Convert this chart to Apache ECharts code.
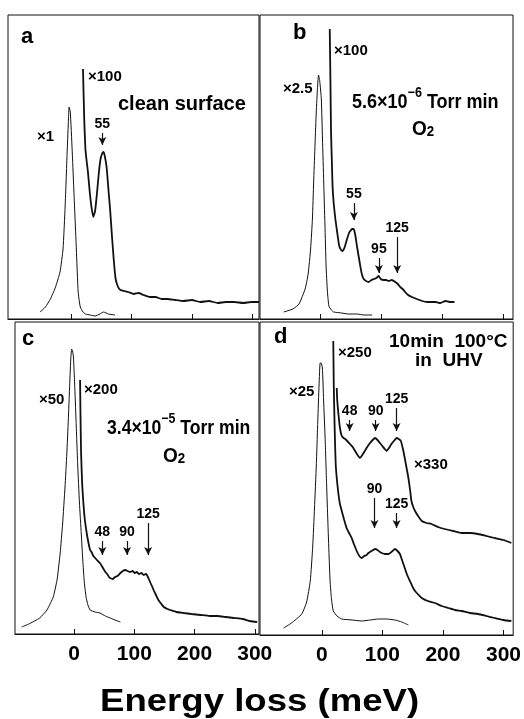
<!DOCTYPE html>
<html><head><meta charset="utf-8">
<script src="https://cdn.jsdelivr.net/npm/echarts@6/dist/echarts.min.js"></script>
<style>html,body{margin:0;padding:0;background:#fff}#c{width:524px;height:719px}</style>
</head><body><div id="c"></div>
<script>
// ---- data (x: energy loss in meV, y: intensity in arbitrary units) ----
const xTicks = [0, 100, 200, 300];

const aElastic = [[-51,7],[-42,12],[-34,20],[-26,31],[-18,47],[-13,70],[-9.5,113],[-6,170],[-4,200],[-3,212],[-1,207],[2,170],[5.5,120],[9,70],[12,27],[15.5,12],[20,7],[24,5],[32,4],[40,3],[48,5],[54,7],[62,5],[73,4]];
const aX100 = [[20,250],[22,200],[24,170],[26,158],[28,148],[31,128],[34,112],[37,102],[40,108],[43,125],[46,145],[49,160],[52,166],[54,167],[56,163],[59,152],[62,130],[65,108],[68,82],[71,58],[74,40],[78,32],[82,29],[88,28],[95,27],[104,25],[112,26],[120,24],[131,22],[140,22],[150,20],[160,20],[172,19],[186,18],[200,19],[214,17],[228,18],[243,16],[256,17],[270,17],[285,16],[298,17],[311,17]];

const bElastic = [[-60,7],[-45,10],[-35,15],[-25,30],[-20,45],[-16,70],[-13,100],[-11,137],[-9,170],[-7,203],[-5,228],[-3,244],[-1,238],[1.6,220],[3.5,180],[5.5,137],[7.5,95],[9.4,53],[11.5,28],[14,13],[18,9],[22,7],[35,6],[46,5],[60,5],[72,4],[85,4]];
const bX100 = [[15.4,290],[16.5,240],[17.5,187],[19,155],[20,133],[22,115],[24.6,100],[28,85],[31,73],[34,69],[36.7,68],[40,72],[43.8,80],[47,86],[49,88],[52,90],[54.6,90],[57,85],[60,73],[63,62],[65.5,53],[68,45],[71,40],[75,38],[79,37],[84,39],[88,40],[92,41],[95.6,43],[99,40],[104,39],[108,39],[112,38],[117,39],[123,37],[127,35],[131,32],[135,30],[139,27],[144,24],[150,22],[158,20],[167,18],[175,17],[182,17],[189,17],[197,16],[205,18],[212,17],[220,17]];

const cX50 = [[-87,7],[-75,10],[-57,16],[-45,24],[-34.5,37],[-28,55],[-23,81],[-19,110],[-15,147],[-12,180],[-9.5,214],[-7.5,245],[-5.5,274],[-4,285],[-2.5,283],[-1,277],[1,250],[3.3,214],[6,170],[9,131],[12,100],[14.5,74],[17,52],[20,37],[23,29],[26.7,24],[35,22],[43,21],[52,18],[60,16],[68,14],[77,12]];
const cX200 = [[10,254],[10.8,215],[11.7,181],[13.5,150],[15.5,131],[18,114],[21,101],[24,91],[26.7,84],[29,82],[32,78],[35,76],[38,74],[41,72],[43,71],[46,68],[49,65],[52,62],[55,60],[58,57],[60,56],[64,55],[68,57],[72,58],[77,61],[81,63],[85,64],[89,63],[93,62],[97,63],[101,61],[104,62],[108,60],[112,61],[115.5,59],[119,60],[121,59],[124,55],[127,51],[130,47],[132,44],[136,39],[140,34],[145,30],[149,27],[155,25],[160,24],[170,22],[182,21],[195,20],[210,19],[225,18],[238,18],[252,17],[265.5,16],[280,15],[292,13],[304,12]];

const dX25 = [[-63,7],[-50,12],[-33,21],[-25,33],[-19,54],[-15,88],[-12,127],[-9,170],[-6.6,214],[-4.5,250],[-2.7,272],[-1,272],[1,267],[3,235],[5.5,197],[8,150],[10,114],[12,80],[13.7,54],[16,36],[19,24],[25,19],[33,16],[50,15],[66,14],[80,15],[93,16],[107,16],[121,15],[132,13],[143,10]];
const dX250 = [[19,294],[19.8,250],[21,214],[22,190],[23,171],[25,155],[27.5,141],[30,131],[33,124],[37,115],[41,107],[45,102],[49.4,97],[53,91],[57.7,84],[62,79],[66,77],[70,79],[74,80],[77,82],[82,84],[88,86],[92,85],[96,83],[99,82],[104,81],[110,81],[115,83],[121,86],[125,84],[129,81],[133,74],[137,67],[141,60],[145.5,54],[150,48],[154,44],[160,40],[165,37],[175,34],[187,32],[198,29],[209,27],[220,25],[231,24],[245,22],[258,21],[272,19],[285.5,17],[300,15],[313,14]];
const dX330 = [[24.7,247],[25.5,235],[27.5,221],[30,207],[33,199],[36,197],[38.5,196],[42,194],[46.6,191],[51,188],[55,184],[59,180],[63,177],[67,180],[71,184],[75,188],[79.6,192],[84,195],[88,197],[92,195],[96,192],[100,189],[104,186],[107,184],[111,187],[115,191],[119,194],[123.5,197],[127,196],[130.6,194],[134,186],[137,177],[140,167],[143,157],[146,144],[148,134],[151,128],[154,124],[159,119],[165,114],[173,112],[181,111],[192,108],[203,106],[217,104],[231,102],[245,102],[258,101],[272,99],[285.5,97],[300,95],[313,92]];

// peak markers: [energy, arrow top, arrow tip, label]
const aPeaks = [[52,186,174,'55']];
const bPeaks = [[55,116,99,'55'],[96,61,46,'95'],[126,82,46,'125']];
const cPeaks = [[47,93,79,'48'],[88,93,79,'90'],[123,111,79,'125']];
const dPeaksUpper = [[46,215,204,'48'],[89,215,204,'90'],[123.5,227,204,'125']];
const dPeaksLower = [[87,137,107,'90'],[123.5,122,107,'125']];

// ---- chart ----
const FONT = 'Liberation Sans';
const ink = '#111';
const grids = [
  {left:8, top:15, width:251, height:304},
  {left:260, top:15, width:253, height:304},
  {left:15, top:322, width:244, height:312},
  {left:260, top:322, width:254, height:313}
];
const xr = [[-104,311],[-99,316],[-98,307],[-102,316]];
const yMax = [304,304,312,313];

function xAxis(i, labels){
  return {gridIndex:i, type:'value', min:xr[i][0], max:xr[i][1],
    axisLine:{show:true, onZero:false, lineStyle:{color:ink, width:1}},
    axisTick:{show:true, inside:true, length:5, customValues:xTicks, lineStyle:{color:ink}},
    axisLabel:{show:labels, customValues:xTicks, color:'#000', fontFamily:FONT, fontWeight:'bold', fontSize:21, margin:10},
    splitLine:{show:false}};
}
function yAxis(i){ return {gridIndex:i, type:'value', min:0, max:yMax[i], show:false}; }
function arrows(list){
  return {silent:true, symbol:['none','arrow'], symbolSize:[6,8], animation:false,
    lineStyle:{color:ink, width:1.2, type:'solid'},
    label:{show:true, position:'start', formatter:'{b}', color:'#000', fontFamily:FONT, fontWeight:'bold', fontSize:14, distance:2},
    data: list.map(p=>[{coord:[p[0],p[1]], name:p[3]},{coord:[p[0],p[2]]}])};
}
function line(i, data, w, ml){
  const s = {type:'line', xAxisIndex:i, yAxisIndex:i, data:data, showSymbol:false, smooth:0.15,
    lineStyle:{color:ink, width:w}, animation:false};
  if (ml) s.markLine = ml;
  return s;
}
function txt(x, y, s, size, sx){
  return {type:'text', x:x, y:y, scaleX:sx||1, style:{text:s, fill:'#000', font:'bold '+size+'px "'+FONT+'"', textAlign:'left', textVerticalAlign:'middle'}};
}
function rich(x, y, s, r, sx){
  return {type:'text', x:x, y:y, scaleX:sx||1, style:{text:s, fill:'#000', textAlign:'left', textVerticalAlign:'middle', rich:r}};
}
const richStyle = {
  m:{fontFamily:FONT, fontWeight:'bold', fontSize:20, color:'#000', lineHeight:26, verticalAlign:'bottom'},
  sup:{fontFamily:FONT, fontWeight:'bold', fontSize:14, color:'#000', lineHeight:26, verticalAlign:'top', padding:[0,0,12,0]},
  sub:{fontFamily:FONT, fontWeight:'bold', fontSize:14, color:'#000', lineHeight:26, verticalAlign:'bottom', padding:[8,0,0,0]}
};

const chart = echarts.init(document.getElementById('c'), null, {renderer:'canvas'});
chart.setOption({
  backgroundColor:'#fff',
  animation:false,
  grid: grids.map(g=>Object.assign({show:true, borderColor:ink, borderWidth:1, backgroundColor:'transparent', containLabel:false}, g)),
  xAxis:[xAxis(0,false), xAxis(1,false), xAxis(2,true), xAxis(3,true)],
  yAxis:[yAxis(0), yAxis(1), yAxis(2), yAxis(3)],
  series:[
    line(0, aElastic, 1),
    line(0, aX100, 1.8, arrows(aPeaks)),
    line(1, bElastic, 1),
    line(1, bX100, 1.8, arrows(bPeaks)),
    line(2, cX50, 1),
    line(2, cX200, 1.8, arrows(cPeaks)),
    line(3, dX25, 1),
    line(3, dX250, 1.8, arrows(dPeaksLower)),
    line(3, dX330, 1.8, arrows(dPeaksUpper))
  ],
  graphic:[
    txt(21, 37, 'a', 22), txt(293, 33, 'b', 22), txt(22, 339, 'c', 22), txt(274, 337, 'd', 22),
    txt(88, 77, '×100', 15), txt(118, 104, 'clean surface', 20), txt(37, 137, '×1', 15),
    txt(334, 51, '×100', 15), txt(283, 89, '×2.5', 15),
    rich(352, 99, '{m|5.6×10}{sup|−6}{m| Torr min}', richStyle, 0.9),
    rich(412, 126, '{m|O}{sub|2}', richStyle, 0.95),
    txt(39, 400, '×50', 15), txt(84, 390, '×200', 15),
    rich(107, 425, '{m|3.4×10}{sup|−5}{m| Torr min}', richStyle, 0.88),
    rich(163, 453, '{m|O}{sub|2}', richStyle, 0.95),
    txt(389, 342, '10min  100°C', 19), txt(415, 361, 'in  UHV', 19),
    txt(338, 353, '×250', 15), txt(289, 392, '×25', 15), txt(414, 465, '×330', 15),
    {type:'text', x:100, y:702, scaleX:1.18, style:{text:'Energy loss (meV)', fill:'#000', font:'bold 31px "'+FONT+'"', textAlign:'left', textVerticalAlign:'middle'}}
  ]
});
</script></body></html>
